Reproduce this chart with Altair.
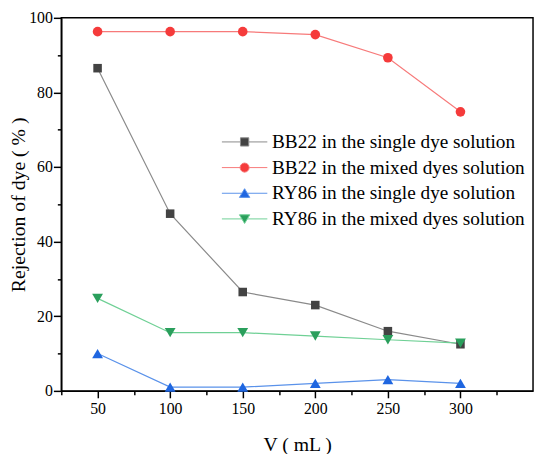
import altair as alt
import pandas as pd

volumes = [50, 100, 150, 200, 250, 300]
series_names = [
    "BB22 in the single dye solution",
    "BB22 in the mixed dyes solution",
    "RY86 in the single dye solution",
    "RY86 in the mixed dyes solution",
]
bb22_single = [86.5, 47.5, 26.5, 23.0, 16.0, 12.5]
bb22_mixed = [96.3, 96.3, 96.3, 95.5, 89.3, 74.8]
ry86_single = [10.0, 1.0, 1.0, 2.0, 3.0, 2.0]
ry86_mixed = [24.8, 15.6, 15.6, 14.7, 13.7, 12.8]

marker_colors = ["#434343", "#f53b3b", "#1f66e0", "#2a9f5c"]
line_colors = ["#8a8a8a", "#f77a7a", "#5a92ea", "#6fd095"]
shapes = ["square", "circle", "triangle-up", "triangle-down"]
sizes = [75, 95, 120, 120]
legend_paths = [
    "M-5.5,0H-1M1,0H5.5M-1,-1H1V1H-1Z",
    "M-5.5,0H-1.1M1.1,0H5.5M1.1,0A1.1,1.1,0,1,1,-1.1,0A1.1,1.1,0,1,1,1.1,0Z",
    "M-5.5,0H-0.6M0.6,0H5.5M0,-1.1L1.25,1H-1.25Z",
    "M-5.5,0H-0.6M0.6,0H5.5M0,1.1L1.25,-1H-1.25Z",
]

all_values = [bb22_single, bb22_mixed, ry86_single, ry86_mixed]
rows = []
for name, vals in zip(series_names, all_values):
    for v, r in zip(volumes, vals):
        rows.append({"V": v, "R": r, "series": name})
df = pd.DataFrame(rows)

FONT = "Liberation Serif, Times New Roman, serif"

x_enc = alt.X(
    "V:Q",
    scale=alt.Scale(domain=[25, 350], nice=False, zero=False),
    axis=alt.Axis(
        title="V ( mL )",
        values=[25, 50, 75, 100, 125, 150, 175, 200, 225, 250, 275, 300, 325],
        labelExpr="(datum.value % 50 == 0 && datum.value <= 300) ? datum.label : ''",
        tickSize={"condition": {"test": "datum.value % 50 == 0", "value": 7}, "value": 4},
        grid=False,
    ),
)
y_enc = alt.Y(
    "R:Q",
    scale=alt.Scale(domain=[0, 100], nice=False),
    axis=alt.Axis(
        title="Rejection of dye ( % )",
        values=list(range(0, 101, 10)),
        labelExpr="datum.value % 20 == 0 ? datum.label : ''",
        tickSize={"condition": {"test": "datum.value % 20 == 0", "value": 8}, "value": 4},
        grid=False,
    ),
)

base = alt.Chart(df)

layers = []
for name, lc in zip(series_names, line_colors):
    layers.append(
        base.transform_filter(alt.datum.series == name)
        .mark_line(strokeWidth=1.2, color=lc)
        .encode(x=x_enc, y=y_enc)
    )
for name, mc, shp, sz in zip(series_names, marker_colors, shapes, sizes):
    layers.append(
        base.transform_filter(alt.datum.series == name)
        .mark_point(filled=True, opacity=1, color=mc, shape=shp, size=sz)
        .encode(x=x_enc, y=y_enc)
    )

legend = alt.Legend(
    title=None,
    orient="none",
    legendX=176,
    legendY=116,
    labelFont=FONT,
    labelFontSize=19.5,
    labelColor="black",
    labelOffset=18,
    symbolSize=70,
    symbolStrokeWidth=1,
    rowPadding=5,
    labelLimit=400,
    padding=0,
)

legend_layer = base.transform_filter("false").mark_point(filled=True, size=70, strokeWidth=1, opacity=1).encode(
    x=x_enc,
    y=y_enc,
    fill=alt.Fill("series:N", scale=alt.Scale(domain=series_names, range=marker_colors), legend=legend),
    stroke=alt.Stroke("series:N", scale=alt.Scale(domain=series_names, range=line_colors), legend=legend),
    shape=alt.Shape("series:N", scale=alt.Scale(domain=series_names, range=legend_paths), legend=legend),
)
layers.append(legend_layer)

chart = (
    alt.layer(*layers)
    .properties(
        width=478,
        height=378,
        autosize=alt.AutoSizeParams(type="none"),
        padding={"left": 54, "top": 7, "right": 2, "bottom": 61},
    )
    .configure(font=FONT)
    .configure_view(stroke="black", strokeWidth=1.5)
    .configure_axis(
        labelFont=FONT,
        titleFont=FONT,
        labelFontSize=16,
        titleFontSize=20,
        titleFontWeight="normal",
        labelColor="black",
        titleColor="black",
        domainColor="black",
        domainWidth=1.5,
        tickColor="black",
        tickWidth=1.5,
    )
    .configure_axisX(titlePadding=18, labelPadding=3)
    .configure_axisY(titlePadding=0, labelPadding=1)
)

chart.save("out.html", embed_options={"renderer": "svg", "actions": False})
